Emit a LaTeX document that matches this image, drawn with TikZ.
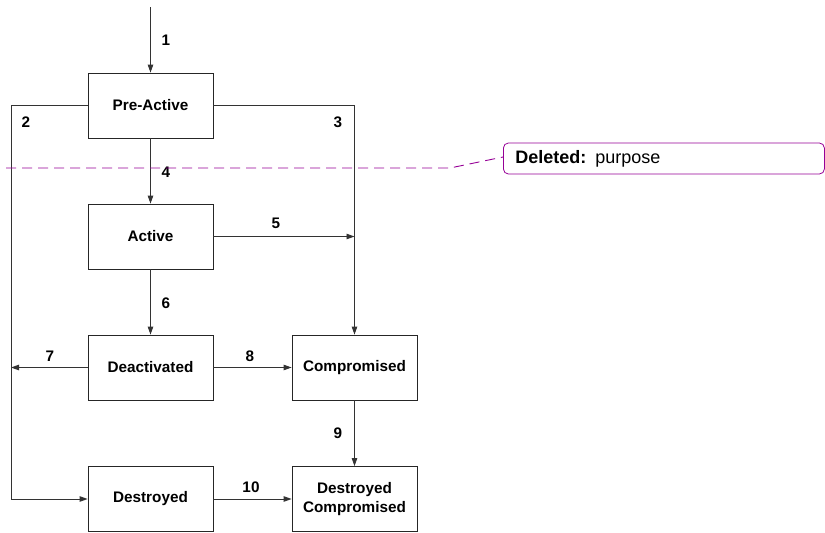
\documentclass[tikz,border=0pt]{standalone}
\usepackage{fontspec}
\setmainfont{Liberation Sans}
\usetikzlibrary{arrows.meta}
\definecolor{cmtcol}{RGB}{150,0,150}
\begin{document}
\begin{tikzpicture}[x=1pt,y=-1pt,
  stbox/.style={draw=black!85,line width=0.8pt,minimum width=125pt,minimum height=65pt,inner sep=0pt,
    font=\fontsize{15.3}{19}\selectfont\bfseries,align=center},
  lab/.style={font=\fontsize{15.3}{17}\selectfont\bfseries,inner sep=0pt},
  arr/.style={draw=black!80,line width=0.9pt,-{Triangle[length=8pt,width=5.5pt]}},
  dsh/.style={draw=cmtcol,line width=0.9pt,dash pattern=on 10pt off 6pt}]
\useasboundingbox (0,0) rectangle (825,533);
\node[stbox] (pre) at (150.5,105.5) {Pre-Active};
\node[stbox] (act) at (150.5,236.5) {Active};
\node[stbox] (deact) at (150.5,367.5) {Deactivated};
\node[stbox] (comp) at (354.5,367.5) {Compromised};
\node[stbox] (des) at (150.5,499) {Destroyed};
\node[stbox] (dc) at (354.5,499) {Destroyed\\Compromised};
\coordinate (top) at (150.5,7);
\coordinate (lx) at (11,105.5);
\coordinate (rx) at (354.5,105.5);
\draw[arr] (top) -- (pre.north);
\draw[arr] (pre.west) -- (lx) |- (des.west);
\draw[arr] (pre.east) -- (rx) -- (comp.north);
\draw[arr] (pre.south) -- (act.north);
\draw[arr] (act.east) -- (act.east -| comp.north);
\draw[arr] (act.south) -- (deact.north);
\draw[arr] (deact.west) -- (deact.west -| lx);
\draw[arr] (deact.east) -- (comp.west);
\draw[arr] (comp.south) -- (dc.north);
\draw[arr] (des.east) -- (dc.west);
\node[lab] (l1) at (166,40) {1};
\node[lab] (l2) at (26,122) {2};
\node[lab] (l3) at (338,122) {3};
\node[lab] (l4) at (166,172) {4};
\node[lab] (l5) at (276,223) {5};
\node[lab] (l6) at (166,303) {6};
\node[lab] (l7) at (50,356) {7};
\node[lab] (l8) at (250,356) {8};
\node[lab] (l9) at (338,433) {9};
\node[lab] (l10) at (251,487) {10};
% comment
\node[draw=cmtcol,line width=0.8pt,rounded corners=5pt,minimum width=321pt,minimum height=31pt,
  inner ysep=0pt,inner xsep=0pt,anchor=west,text width=321pt,align=left,
  font=\fontsize{18}{20}\selectfont] (cmt) at (503,158.5)
  {\hspace*{12pt}\textbf{Deleted:} purpose};
\coordinate (ds) at (6,168);
\coordinate (dm) at (450,168);
\draw[dsh] (ds) -- (dm) -- (cmt.west |- 0,157);
\end{tikzpicture}
\end{document}
